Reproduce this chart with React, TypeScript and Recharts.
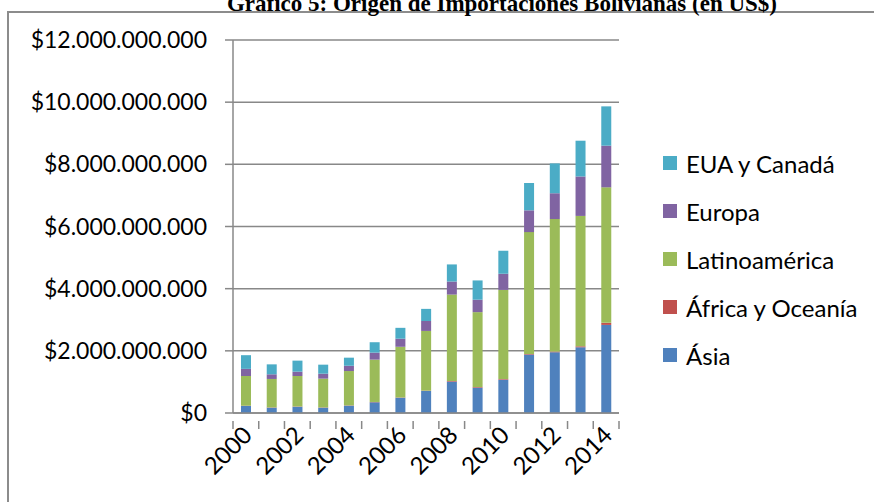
import React from 'react';
import { BarChart, Bar, XAxis, YAxis, CartesianGrid, Legend } from 'recharts';

const years = ['2000','2001','2002','2003','2004','2005','2006','2007','2008','2009','2010','2011','2012','2013','2014'];
// values in billions of US$
const asia = [0.225,0.17,0.2,0.17,0.235,0.345,0.49,0.71,1.01,0.815,1.07,1.88,1.955,2.115,2.834];
const africa = [0.01,0.01,0.01,0.01,0.01,0.01,0.01,0.01,0.02,0.02,0.02,0.02,0.02,0.03,0.066];
const latin = [0.955,0.915,0.98,0.925,1.105,1.362,1.63,1.92,2.78,2.41,2.87,3.92,4.265,4.195,4.36];
const europe = [0.23,0.15,0.14,0.16,0.17,0.225,0.26,0.32,0.42,0.4,0.52,0.7,0.83,1.27,1.34];
const usa = [0.44,0.32,0.355,0.29,0.26,0.335,0.35,0.39,0.55,0.62,0.74,0.88,0.96,1.15,1.265];
const yTicks = [0,2,4,6,8,10,12];

const seriesNames = ['Ásia','África y Oceanía','Latinoamérica','Europa','EUA y Canadá'];
const seriesColors = ['#4F81BD','#C0504D','#9BBB59','#8064A2','#4BACC6'];

const data = years.map((y, i) => ({
  year: y,
  asia: asia[i],
  africa: africa[i],
  latin: latin[i],
  europe: europe[i],
  usa: usa[i],
}));

const keys = ['asia','africa','latin','europe','usa'];

const W = 874;
const H = 502;
const margin = { top: 40, right: 255, bottom: 0, left: 0 };
const xAxisHeight = 89;
const yAxisWidth = 233;
const plotWidth = W - margin.left - margin.right - yAxisWidth;
const halfBand = plotWidth / years.length / 2;

const FONT = 'Lato, "Open Sans", sans-serif';
const GRID = '#888888';

function formatMoney(v: number) {
  const n = Math.round(v * 1e9);
  const s = String(n).replace(/\B(?=(\d{3})+(?!\d))/g, '.');
  return '$' + s;
}

function XTick(props: any) {
  const { x, y, payload, index } = props;
  const showLabel = index % 2 === 0;
  const ax = x + 1;
  const ay = y + 9;
  return (
    <g>
      <line x1={x - halfBand} x2={x - halfBand} y1={y} y2={y + 8} stroke={GRID} strokeWidth={1.5} />
      {index === years.length - 1 && (
        <line x1={x + halfBand} x2={x + halfBand} y1={y} y2={y + 8} stroke={GRID} strokeWidth={1.5} />
      )}
      {showLabel && (
        <text
          x={ax}
          y={ay}
          transform={`rotate(-45, ${ax}, ${ay})`}
          textAnchor="end"
          dominantBaseline="central"
          fontFamily={FONT}
          fontSize={24}
          fill="#000"
        >
          {payload.value}
        </text>
      )}
    </g>
  );
}

function LegendContent(props: any) {
  const items = [...(props.payload || [])];
  return (
    <div style={{ fontFamily: FONT, fontSize: 24, color: '#000' }}>
      {items.map((it: any) => (
        <div key={it.value} style={{ height: 48, display: 'flex', alignItems: 'center' }}>
          <div style={{ width: 14, height: 14, background: it.color, marginLeft: 3, marginRight: 9 }} />
          <span style={{ whiteSpace: 'nowrap' }}>{it.value}</span>
        </div>
      ))}
    </div>
  );
}

export default function App() {
  return (
    <div style={{ position: 'absolute', left: 0, top: 0, width: W, height: H, overflow: 'hidden', background: '#fff' }}>
      <div
        style={{
          position: 'absolute', left: 7, top: 11, width: W, height: H,
          borderLeft: '2px solid #8c8c8c', borderTop: '2px solid #8c8c8c',
        }}
      />
      <div
        style={{
          position: 'absolute', left: 0, width: 1004, top: -8, textAlign: 'center',
          fontFamily: '"Liberation Serif", "Times New Roman", serif', fontWeight: 'bold', fontSize: 23,
          lineHeight: '23px', whiteSpace: 'nowrap', color: '#000',
        }}
      >
        Gráfico 5: Origen de Importaciones Bolivianas (en US$)
      </div>
      <div style={{ position: 'absolute', left: 0, top: 0 }}>
        <BarChart width={W} height={H} data={data} margin={margin} barSize={10}>
          <CartesianGrid horizontal={true} vertical={false} stroke={GRID} strokeWidth={1.5} />
          <XAxis
            dataKey="year"
            interval={0}
            tickLine={false}
            axisLine={{ stroke: GRID, strokeWidth: 1.5 }}
            tick={<XTick />}
            height={xAxisHeight}
          />
          <YAxis
            width={yAxisWidth}
            domain={[0, 12]}
            ticks={yTicks}
            tickFormatter={formatMoney}
            tickSize={8}
            tickMargin={18}
            tickLine={{ stroke: GRID, strokeWidth: 1.5 }}
            axisLine={{ stroke: GRID, strokeWidth: 1.5 }}
            tick={{ fontFamily: FONT, fontSize: 23, fill: '#000' }}
            interval={0}
          />
          <Legend
            layout="vertical"
            align="center"
            verticalAlign="middle"
            wrapperStyle={{ left: 660, top: 139, width: 214 }}
            content={<LegendContent />}
          />
          {keys.map((k, i) => (
            <Bar
              key={k}
              dataKey={k}
              name={seriesNames[i]}
              stackId="a"
              fill={seriesColors[i]}
              isAnimationActive={false}
            />
          ))}
        </BarChart>
      </div>
    </div>
  );
}
